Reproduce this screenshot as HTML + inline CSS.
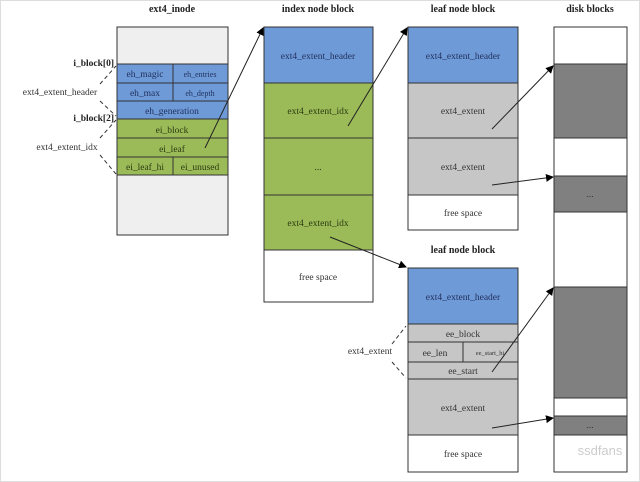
<!DOCTYPE html><html><head><style>
body{margin:0;background:#fff;}
svg{display:block;font-family:"Liberation Serif",serif;}
</style></head><body>
<svg width="640" height="482" viewBox="0 0 640 482" xmlns="http://www.w3.org/2000/svg">
<defs><marker id="a" markerWidth="8" markerHeight="8" refX="7" refY="4" orient="auto" markerUnits="userSpaceOnUse"><path d="M0,0 L8,4 L0,8 z" fill="#000"/></marker></defs>
<rect x="0.5" y="0.5" width="639" height="481" fill="none" stroke="#ddd"/>
<g font-size="10" font-weight="bold" text-anchor="middle" fill="#222">
<text x="172" y="12">ext4_inode</text><text x="318" y="12">index node block</text>
<text x="463" y="12">leaf node block</text><text x="590" y="12">disk blocks</text>
<text x="463" y="253">leaf node block</text></g>
<g stroke="#333" stroke-width="1">
<rect x="117" y="27" width="111" height="208" fill="#efefef"/>
<rect x="117" y="64" width="111" height="55" fill="#6f9ad8"/>
<rect x="117" y="119" width="111" height="56" fill="#9bbb59"/>
<line x1="117" y1="83" x2="228" y2="83"/><line x1="117" y1="101" x2="228" y2="101"/>
<line x1="117" y1="138" x2="228" y2="138"/><line x1="117" y1="157" x2="228" y2="157"/>
<line x1="173" y1="64" x2="173" y2="101"/><line x1="173" y1="157" x2="173" y2="175"/>
<rect x="264" y="27" width="109" height="56" fill="#6f9ad8"/>
<rect x="264" y="83" width="109" height="167" fill="#9bbb59"/>
<line x1="264" y1="138" x2="373" y2="138"/><line x1="264" y1="195" x2="373" y2="195"/>
<rect x="264" y="250" width="109" height="52" fill="#fff"/>
<rect x="408" y="27" width="110" height="56" fill="#6f9ad8"/>
<rect x="408" y="83" width="110" height="112" fill="#c6c6c6"/>
<line x1="408" y1="138" x2="518" y2="138"/>
<rect x="408" y="195" width="110" height="35" fill="#fff"/>
<rect x="408" y="268" width="110" height="56" fill="#6f9ad8"/>
<rect x="408" y="324" width="110" height="111" fill="#c6c6c6"/>
<line x1="408" y1="342" x2="518" y2="342"/><line x1="408" y1="362" x2="518" y2="362"/><line x1="408" y1="379" x2="518" y2="379"/>
<line x1="463" y1="342" x2="463" y2="362"/>
<rect x="408" y="435" width="110" height="37" fill="#fff"/>
<rect x="554" y="27" width="73" height="445" fill="#fff"/>
<rect x="554" y="64" width="73" height="74" fill="#808080"/>
<rect x="554" y="176" width="73" height="36" fill="#808080"/>
<rect x="554" y="287" width="73" height="111" fill="#808080"/>
<rect x="554" y="416" width="73" height="19" fill="#808080"/>
</g>
<g font-size="9.5" text-anchor="middle" fill="#1f2f5a">
<text x="145" y="77">eh_magic</text><text x="200" y="77" font-size="8">eh_entries</text>
<text x="145" y="96">eh_max</text><text x="200" y="96" font-size="8">eh_depth</text>
<text x="172" y="114">eh_generation</text>
<text x="318" y="59">ext4_extent_header</text><text x="463" y="59">ext4_extent_header</text><text x="463" y="300">ext4_extent_header</text></g>
<g font-size="9.5" text-anchor="middle" fill="#2a3a10">
<text x="172" y="133">ei_block</text><text x="172" y="152">ei_leaf</text>
<text x="145" y="170">ei_leaf_hi</text><text x="200" y="170">ei_unused</text>
<text x="318" y="114">ext4_extent_idx</text><text x="318" y="170">...</text><text x="318" y="226">ext4_extent_idx</text></g>
<g font-size="9.5" text-anchor="middle" fill="#333">
<text x="318" y="280">free space</text><text x="463" y="114">ext4_extent</text><text x="463" y="170">ext4_extent</text>
<text x="463" y="216">free space</text><text x="463" y="337">ee_block</text><text x="435" y="356">ee_len</text>
<text x="490" y="355" font-size="6.5">ee_start_hi</text><text x="463" y="374">ee_start</text>
<text x="463" y="411">ext4_extent</text><text x="463" y="457">free space</text>
<text x="590" y="197">...</text><text x="590" y="428">...</text>
<text x="370" y="354">ext4_extent</text>
<text x="60" y="95">ext4_extent_header</text><text x="67" y="150">ext4_extent_idx</text></g>
<g font-size="9.5" font-weight="bold" text-anchor="end" fill="#222"><text x="114" y="66">i_block[0]</text><text x="114" y="121">i_block[2]</text></g>
<g stroke="#333" stroke-dasharray="4,3" fill="none">
<path d="M100,84 L116,66"/><path d="M100,101 L116,116"/><path d="M100,138 L116,120"/><path d="M100,155 L116,174"/>
<path d="M392,344 L406,326"/><path d="M392,362 L406,378"/></g>
<g stroke="#222" stroke-width="1" marker-end="url(#a)">
<line x1="205" y1="148" x2="263" y2="28"/><line x1="348" y1="126" x2="407" y2="28"/>
<line x1="330" y1="237" x2="406" y2="267"/><line x1="492" y1="129" x2="553" y2="66"/>
<line x1="492" y1="185" x2="553" y2="177"/><line x1="492" y1="372" x2="553" y2="288"/>
<line x1="492" y1="428" x2="553" y2="418"/></g>
<text x="600" y="455" font-family="Liberation Sans,sans-serif" font-size="13" fill="#ccc" text-anchor="middle">ssdfans</text>
</svg></body></html>
